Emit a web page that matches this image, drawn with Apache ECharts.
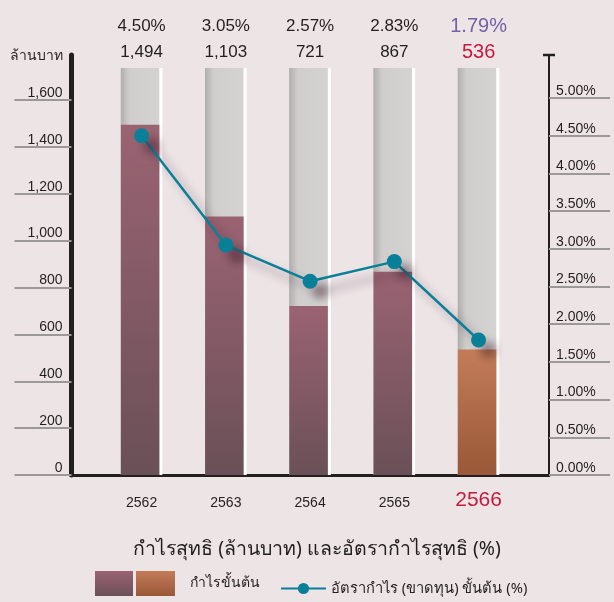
<!DOCTYPE html>
<html>
<head>
<meta charset="utf-8">
<script src="https://cdn.jsdelivr.net/npm/echarts@6/dist/echarts.min.js"></script>
<style>
html, body { margin: 0; padding: 0; background: #ede4e6; }
#chart { width: 614px; height: 602px; }
</style>
</head>
<body>
<div id="chart"></div>
<script>
// ปี
var years = ['2562', '2563', '2564', '2565', '2566'];
// กำไรขั้นต้น (ล้านบาท)
var grossProfit = [1494, 1103, 721, 867, 536];
// อัตรากำไรขั้นต้น (%)
var grossMargin = [4.50, 3.05, 2.57, 2.83, 1.79];
// tick ของแกน
var leftTicks = [0, 200, 400, 600, 800, 1000, 1200, 1400, 1600];
var rightTicks = [0, 0.5, 1, 1.5, 2, 2.5, 3, 3.5, 4, 4.5, 5];

var lastIdx = years.length - 1;
var dark = '#231f20';
var teal = '#0a7f98';
var latin = 'Arial, "Liberation Sans", sans-serif';
var thai = '"Noto Sans", "DejaVu Sans", sans-serif';

// layout (px): top of axes, top of the grey columns, y of zero
var axisTop = 55, plotTop = 68, zeroY = 475;
var leftPx = 375 / 1600;   // px per ล้านบาท
var rightPx = 75.4;        // px per 1%

var chart = echarts.init(document.getElementById('chart'));

var mauve = new echarts.graphic.LinearGradient(0, 0, 0, 1, [
    {offset: 0, color: '#9a6372'},
    {offset: 1, color: '#6a5058'}
]);
var orange = new echarts.graphic.LinearGradient(0, 0, 0, 1, [
    {offset: 0, color: '#c27c58'},
    {offset: 1, color: '#9a5838'}
]);
var greyBg = new echarts.graphic.LinearGradient(0, 0, 1, 0, [
    {offset: 0, color: '#b1afae'},
    {offset: 0.22, color: '#d0cecd'},
    {offset: 1, color: '#d5d3d2'}
]);

var option = {
    backgroundColor: '#ede4e6',
    animation: false,
    title: {
        text: 'กำไรสุทธิ (ล้านบาท) และอัตรากำไรสุทธิ (%)',
        left: 312,
        top: 534,
        textAlign: 'center',
        textStyle: {fontFamily: thai, fontSize: 19.5, fontWeight: 'normal', color: dark}
    },
    legend: [
        {
            data: ['กำไรขั้นต้น (2562-2565)'],
            left: 95, top: 571, padding: 0, itemWidth: 38, itemHeight: 25, icon: 'rect',
            selectedMode: false,
            formatter: function () { return ''; }
        },
        {
            data: ['กำไรขั้นต้น'],
            left: 136, top: 571, padding: 0, itemWidth: 39, itemHeight: 25, icon: 'rect',
            selectedMode: false,
            textStyle: {fontFamily: thai, fontSize: 14, color: dark, padding: [8, 0, 0, 10]}
        },
        {
            data: ['อัตรากำไร (ขาดทุน) ขั้นต้น (%)'],
            left: 280, top: 581, padding: 0, itemWidth: 45, itemHeight: 14,
            selectedMode: false,
            textStyle: {fontFamily: thai, fontSize: 14.7, color: dark}
        }
    ],
    grid: [
        {left: 71.5, right: 65, top: axisTop, bottom: 602 - zeroY},
        {left: 99.5, right: 93.3, top: plotTop, bottom: 602 - zeroY}
    ],
    xAxis: [
        {
            // baseline of the frame
            type: 'value', gridIndex: 0, min: 0, max: 1,
            axisLine: {show: true, lineStyle: {color: dark, width: 3}},
            axisTick: {show: false}, axisLabel: {show: false}, splitLine: {show: false}
        },
        {
            type: 'category', gridIndex: 1, data: years,
            axisLine: {show: false}, axisTick: {show: false},
            axisLabel: {
                margin: 28, verticalAlign: 'middle',
                formatter: function (v, i) { return i === lastIdx ? '{big|' + v + '}' : '{yr|' + v + '}'; },
                rich: {
                    yr: {fontFamily: latin, fontSize: 14, color: dark},
                    big: {fontFamily: latin, fontSize: 21, color: '#c41a3e', padding: [0, 0, 5, 0]}
                }
            }
        },
        {
            type: 'category', gridIndex: 1, data: years, position: 'top',
            axisLine: {show: false}, axisTick: {show: false},
            axisLabel: {
                margin: 3, verticalAlign: 'bottom',
                formatter: function (v, i) {
                    var p = grossMargin[i].toFixed(2) + '%';
                    var g = grossProfit[i].toLocaleString('en-US');
                    return i === lastIdx ? '{pl|' + p + '}\n{gl|' + g + '}' : '{p|' + p + '}\n{g|' + g + '}';
                },
                rich: {
                    p: {fontFamily: latin, fontSize: 17, color: dark, lineHeight: 26},
                    g: {fontFamily: latin, fontSize: 17, color: dark, lineHeight: 26},
                    pl: {fontFamily: latin, fontSize: 20, color: '#7263a6', lineHeight: 26},
                    gl: {fontFamily: latin, fontSize: 20, color: '#c41a3e', lineHeight: 26}
                }
            }
        }
    ],
    yAxis: [
        {
            type: 'value', gridIndex: 0, position: 'left', min: 0, max: (zeroY - axisTop) / leftPx,
            name: 'ล้านบาท', nameLocation: 'end', nameGap: -1,
            nameTextStyle: {fontFamily: thai, fontSize: 14, color: dark, align: 'right', verticalAlign: 'middle', padding: [0, 9, 0, 0]},
            axisLine: {show: true, lineStyle: {color: dark, width: 5}},
            axisTick: {show: true, customValues: leftTicks, length: 57, lineStyle: {color: '#9c9899', width: 2}},
            axisLabel: {
                customValues: leftTicks, margin: 9, verticalAlign: 'bottom',
                fontFamily: latin, fontSize: 14, color: dark,
                formatter: function (v) { return v.toLocaleString('en-US'); }
            },
            splitLine: {show: false}
        },
        {
            type: 'value', gridIndex: 0, position: 'right', min: 0, max: (zeroY - axisTop) / rightPx,
            axisLine: {show: true, symbol: ['none', 'rect'], symbolSize: [12, 2.5], lineStyle: {color: dark, width: 2}},
            axisTick: {show: true, customValues: rightTicks, length: 61, lineStyle: {color: '#9c9899', width: 2}},
            axisLabel: {
                customValues: rightTicks, margin: 7, verticalAlign: 'bottom',
                fontFamily: latin, fontSize: 14, color: dark,
                formatter: function (v) { return v.toFixed(2) + '%'; }
            },
            splitLine: {show: false}
        },
        {type: 'value', gridIndex: 1, min: 0, max: (zeroY - plotTop) / leftPx, show: false},
        {type: 'value', gridIndex: 1, min: 0, max: (zeroY - plotTop) / rightPx, show: false}
    ],
    series: [
        {
            name: 'กำไรขั้นต้น (2562-2565)', type: 'bar', xAxisIndex: 1, yAxisIndex: 2,
            stack: 'gp', barWidth: 38.5, barGap: 0,
            showBackground: true, backgroundStyle: {color: greyBg},
            itemStyle: {color: mauve},
            data: grossProfit.map(function (v, i) { return i < lastIdx ? v : '-'; })
        },
        {
            name: 'กำไรขั้นต้น', type: 'bar', xAxisIndex: 1, yAxisIndex: 2,
            stack: 'gp', barWidth: 38.5, barGap: 0,
            showBackground: true, backgroundStyle: {color: greyBg},
            itemStyle: {color: orange},
            data: grossProfit.map(function (v, i) { return i === lastIdx ? v : '-'; })
        },
        {
            // white gap after each column
            name: 'sep', type: 'bar', xAxisIndex: 1, yAxisIndex: 2,
            barWidth: 3, barGap: 0,
            showBackground: true, backgroundStyle: {color: '#ffffff'},
            itemStyle: {color: '#ffffff'},
            data: years.map(function () { return 0; })
        },
        {
            name: 'อัตรากำไร (ขาดทุน) ขั้นต้น (%)', type: 'line', xAxisIndex: 1, yAxisIndex: 3,
            symbol: 'circle', symbolSize: 15, z: 5,
            itemStyle: {color: teal, shadowColor: 'rgba(50,20,35,0.45)', shadowBlur: 10, shadowOffsetX: 10, shadowOffsetY: 10},
            lineStyle: {color: teal, width: 2.5, shadowColor: 'rgba(50,20,35,0.45)', shadowBlur: 10, shadowOffsetX: 10, shadowOffsetY: 10},
            data: grossMargin
        }
    ]
};

chart.setOption(option);
</script>
</body>
</html>
